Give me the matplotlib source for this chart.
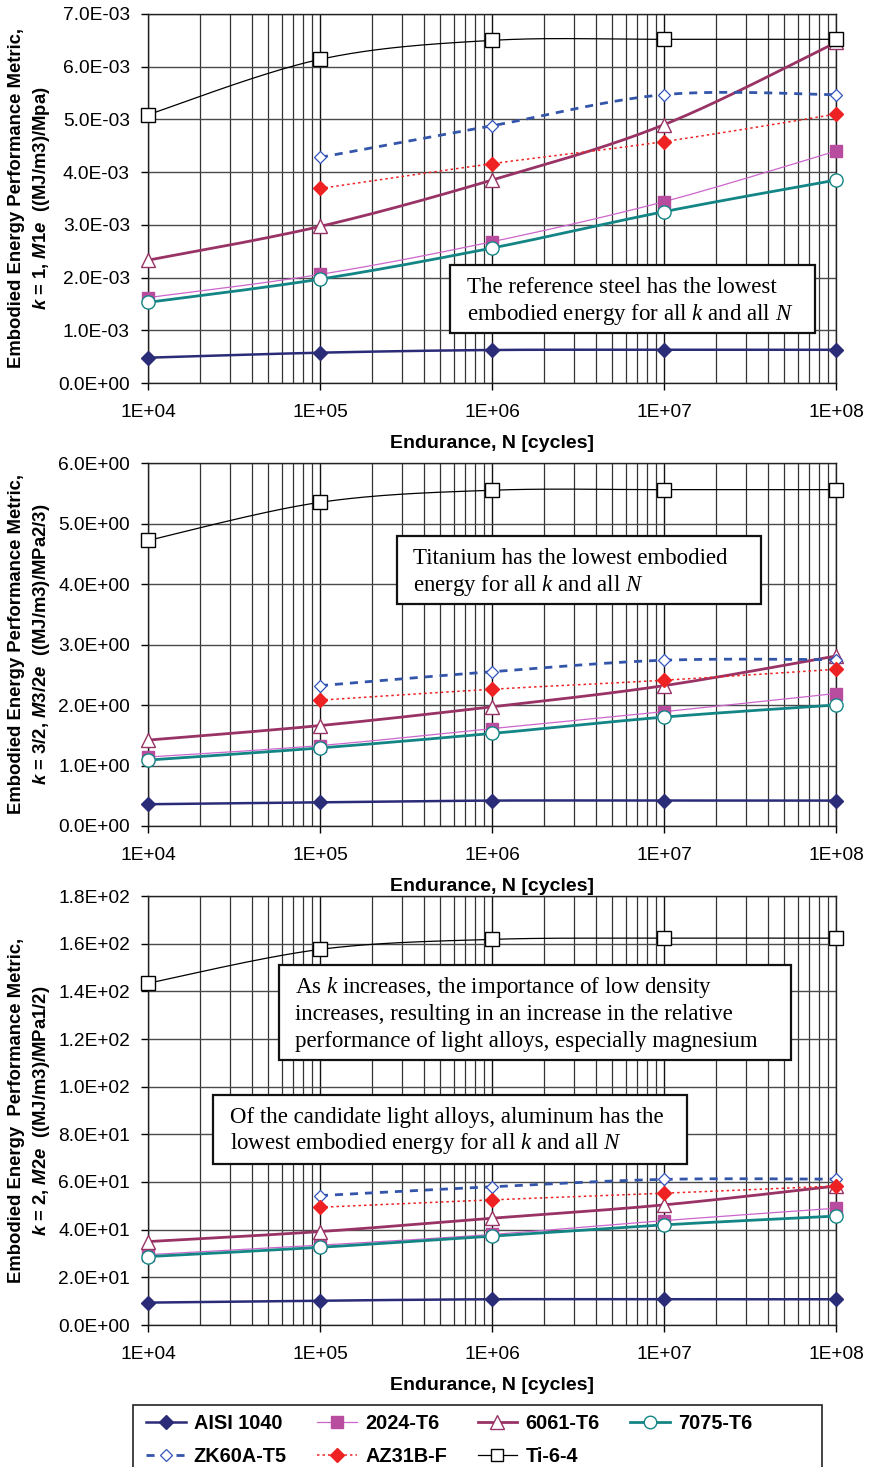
import numpy as np
import matplotlib
matplotlib.use("Agg")
import matplotlib.pyplot as plt
from matplotlib.ticker import FuncFormatter, LogLocator, MultipleLocator, NullFormatter
from matplotlib.patches import Rectangle
from matplotlib.lines import Line2D

plt.rcParams['font.family'] = ['Liberation Sans', 'DejaVu Sans']
plt.rcParams['mathtext.fontset'] = 'custom'
plt.rcParams['mathtext.rm'] = 'Liberation Sans:bold'
plt.rcParams['mathtext.it'] = 'Liberation Sans:italic:bold'
plt.rcParams['mathtext.cal'] = 'Liberation Serif:italic'

# ---------------- data ----------------
N = [1e4, 1e5, 1e6, 1e7, 1e8]
N_mg = [1e5, 1e6, 1e7, 1e8]

series_names = ["AISI 1040", "2024-T6", "6061-T6", "7075-T6", "ZK60A-T5", "AZ31B-F", "Ti-6-4"]

# k = 1
k1_aisi = [0.48e-3, 0.575e-3, 0.626e-3, 0.63e-3, 0.63e-3]
k1_2024 = [1.62e-3, 2.06e-3, 2.68e-3, 3.44e-3, 4.40e-3]
k1_6061 = [2.33e-3, 2.97e-3, 3.85e-3, 4.90e-3, 6.46e-3]
k1_7075 = [1.53e-3, 1.97e-3, 2.56e-3, 3.25e-3, 3.85e-3]
k1_zk60 = [4.28e-3, 4.88e-3, 5.47e-3, 5.47e-3]
k1_az31 = [3.69e-3, 4.16e-3, 4.58e-3, 5.10e-3]
k1_ti = [5.09e-3, 6.14e-3, 6.50e-3, 6.52e-3, 6.52e-3]

# k = 3/2
k15_aisi = [0.36, 0.39, 0.42, 0.42, 0.42]
k15_2024 = [1.14, 1.33, 1.61, 1.89, 2.19]
k15_6061 = [1.42, 1.66, 1.97, 2.32, 2.81]
k15_7075 = [1.09, 1.29, 1.53, 1.80, 2.00]
k15_zk60 = [2.32, 2.55, 2.74, 2.75]
k15_az31 = [2.08, 2.26, 2.41, 2.59]
k15_ti = [4.72, 5.35, 5.55, 5.56, 5.56]

# k = 2
k2_aisi = [9.4, 10.2, 10.8, 10.8, 10.8]
k2_2024 = [29.5, 33.5, 38.0, 43.8, 49.0]
k2_6061 = [35.0, 39.2, 44.8, 50.4, 58.3]
k2_7075 = [28.7, 32.6, 37.3, 42.0, 45.7]
k2_zk60 = [54.3, 58.0, 61.1, 61.2]
k2_az31 = [49.4, 52.5, 55.3, 58.3]
k2_ti = [143.4, 157.6, 161.8, 162.3, 162.3]

x_ticklabels = ["1E+04", "1E+05", "1E+06", "1E+07", "1E+08"]

# ---------------- styles ----------------
styles = {
    "AISI 1040": dict(color='#2B2C78', lw=1.8, ls='-', marker='D', ms=7, mfc='#2B2C78', mec='#2B2C78'),
    "2024-T6":   dict(color='#CC66CC', lw=0.9, ls='-', marker='s', ms=8.5, mfc='#B84C9E', mec='#B84C9E'),
    "6061-T6":   dict(color='#993366', lw=2.0, ls='-', marker='^', ms=10, mfc='white', mec='#993366', mew=1.0),
    "7075-T6":   dict(color='#148585', lw=2.0, ls='-', marker='o', ms=9.5, mfc='white', mec='#148585', mew=1.0),
    "ZK60A-T5":  dict(color='#3355AA', lw=2.0, ls=(0, (2.9, 2.5)), marker='D', ms=6.5, mfc='white', mec='#3355BB', mew=0.9),
    "AZ31B-F":   dict(color='#EE2222', lw=1.1, ls=(0, (1.6, 2.0)), marker='D', ms=7, mfc='#EE2222', mec='#EE2222'),
    "Ti-6-4":    dict(color='black', lw=0.9, ls='-', marker='s', ms=9.5, mfc='white', mec='black', mew=1.0),
}


def smooth(xs, ys, n=40):
    """Excel-like smoothed line (Catmull-Rom Bezier) in log-x / linear-y space."""
    lx = np.log10(np.asarray(xs, float))
    y = np.asarray(ys, float)
    P = np.column_stack([lx, y])
    out = [P[0]]
    t = np.linspace(0, 1, n)[1:]
    for i in range(len(P) - 1):
        p0 = P[i - 1] if i > 0 else P[i]
        p1 = P[i]
        p2 = P[i + 1]
        p3 = P[i + 2] if i + 2 < len(P) else P[i + 1]
        c1 = p1 + (p2 - p0) / 6.0
        c2 = p2 - (p3 - p1) / 6.0
        for tt in t:
            b = ((1 - tt) ** 3) * p1 + 3 * ((1 - tt) ** 2) * tt * c1 + 3 * (1 - tt) * tt ** 2 * c2 + tt ** 3 * p2
            out.append(b)
    out = np.array(out)
    return 10 ** out[:, 0], out[:, 1]


W, H = 869, 1467
fig = plt.figure(figsize=(W / 100, H / 100), dpi=100)


def fx(p):
    return p / W


def fy(p):
    return 1 - p / H


panels = [
    dict(top=14, bot=383, ymax=0.007, step=0.001,
         data=[k1_aisi, k1_2024, k1_6061, k1_7075, k1_zk60, k1_az31, k1_ti],
         yl1="Embodied Energy Performance Metric,",
         yl2=r"$k$ = 1, $\mathit{M1e}$  ((MJ/m3)/Mpa)"),
    dict(top=463, bot=826, ymax=6.0, step=1.0,
         data=[k15_aisi, k15_2024, k15_6061, k15_7075, k15_zk60, k15_az31, k15_ti],
         yl1="Embodied Energy Performance Metric,",
         yl2=r"$k$ = 3/2, $\mathit{M3/2e}$  ((MJ/m3)/MPa2/3)"),
    dict(top=896, bot=1325, ymax=180.0, step=20.0,
         data=[k2_aisi, k2_2024, k2_6061, k2_7075, k2_zk60, k2_az31, k2_ti],
         yl1="Embodied Energy  Performance Metric,",
         yl2=r"$k$ = 2, $\mathit{M2e}$  ((MJ/m3)/MPa1/2)"),
]

L, R = 148, 836
handles = {}
for p in panels:
    ax = fig.add_axes([fx(L), fy(p['bot']), (R - L) / W, (p['bot'] - p['top']) / H])
    ax.set_xscale('log')
    ax.set_xlim(1e4, 1e8)
    ax.set_ylim(0, p['ymax'])
    ax.yaxis.set_major_locator(MultipleLocator(p['step']))
    ax.yaxis.set_major_formatter(FuncFormatter(lambda v, pos: f"{v:.1E}"))
    ax.xaxis.set_minor_locator(LogLocator(base=10, subs=np.arange(2, 10), numticks=100))
    ax.xaxis.set_minor_formatter(NullFormatter())
    ax.set_xticks(N)
    ax.set_xticklabels(x_ticklabels)
    ax.tick_params(axis='both', which='major', labelsize=13.8, direction='out', length=5, width=1, color='black', pad=8)
    ax.tick_params(axis='x', which='major', pad=10)
    ax.tick_params(axis='x', which='minor', length=0)
    ax.grid(True, which='major', axis='y', color='#4a4a4a', lw=1.0)
    ax.grid(True, which='major', axis='x', color='#111111', lw=1.0)
    ax.grid(True, which='minor', axis='x', color='#333333', lw=0.9)
    ax.set_axisbelow(True)
    for s in ax.spines.values():
        s.set_color('#222222')
        s.set_linewidth(1.0)

    for name, ys in zip(series_names, p['data']):
        st = styles[name]
        xs = N if len(ys) == 5 else N_mg
        sx, sy = smooth(xs, ys)
        ax.plot(sx, sy, color=st['color'], lw=st['lw'], ls=st['ls'], clip_on=False, zorder=3)
        ax.plot(xs, ys, ls='none', marker=st['marker'], ms=st['ms'], mfc=st['mfc'],
                mec=st['mec'], mew=st.get('mew', 1.0), clip_on=False, zorder=4)
        handles[name] = Line2D([], [], color=st['color'], lw=st['lw'], ls=st['ls'],
                               marker=st['marker'], ms=st['ms'] * 0.95, mfc=st['mfc'],
                               mec=st['mec'], mew=st.get('mew', 1.0))

    # axis titles
    fig.text(fx((L + R) / 2), fy(p['bot'] + 60), "Endurance, N [cycles]", ha='center', va='center',
             fontsize=14, fontweight='bold')
    yc = (p['top'] + p['bot']) / 2
    fig.text(fx(17), fy(yc), p['yl1'], rotation=90, ha='center', va='center',
             fontsize=13.3, fontweight='bold')
    fig.text(fx(42), fy(yc), p['yl2'], rotation=90, ha='center', va='center',
             fontsize=13.3, fontweight='bold')


def note(x0, y0, x1, y1, lines, tx, ys):
    fig.patches.append(Rectangle((fx(x0), fy(y1)), (x1 - x0) / W, (y1 - y0) / H,
                                 transform=fig.transFigure, facecolor='white',
                                 edgecolor='#111111', lw=1.6, zorder=10))
    for line, yy in zip(lines, ys):
        fig.text(fx(tx), fy(yy), line, ha='left', va='baseline', fontsize=16.5,
                 family='Liberation Serif', zorder=11)


note(450, 265, 815, 333,
     ["The reference steel has the lowest",
      r"embodied energy for all $\mathcal{k}$ and all $\mathcal{N}$"],
     467, [293, 320])
note(397, 536, 761, 604,
     ["Titanium has the lowest embodied",
      r"energy for all $\mathcal{k}$ and all $\mathcal{N}$"],
     413, [564, 591])
note(279, 965, 791, 1060,
     [r"As $\mathcal{k}$ increases, the importance of low density",
      "increases, resulting in an increase in the relative",
      "performance of light alloys, especially magnesium"],
     295, [993, 1020, 1047])
note(213, 1095, 687, 1164,
     ["Of the candidate light alloys, aluminum has the",
      r"lowest embodied energy for all $\mathcal{k}$ and all $\mathcal{N}$"],
     230, [1123, 1149])

# legend box
fig.patches.append(Rectangle((fx(133), fy(1475)), (822 - 133) / W, (1475 - 1405) / H,
                             transform=fig.transFigure, facecolor='white',
                             edgecolor='#222222', lw=1.2, zorder=1))
# legend (column-major order so rows read left-to-right like the original)
order = ["AISI 1040", "ZK60A-T5", "2024-T6", "AZ31B-F", "6061-T6", "Ti-6-4", "7075-T6"]
leg = fig.legend([handles[n] for n in order], order, ncol=4,
                 loc='upper left', bbox_to_anchor=(fx(142), fy(1410)),
                 prop={'family': 'Liberation Sans', 'weight': 'bold', 'size': 14.3},
                 frameon=False, handlelength=2.0, handletextpad=0.4, columnspacing=1.55,
                 labelspacing=0.7, borderpad=0.2, borderaxespad=0)
leg.set_zorder(5)

fig.savefig("out.png", dpi=100)
